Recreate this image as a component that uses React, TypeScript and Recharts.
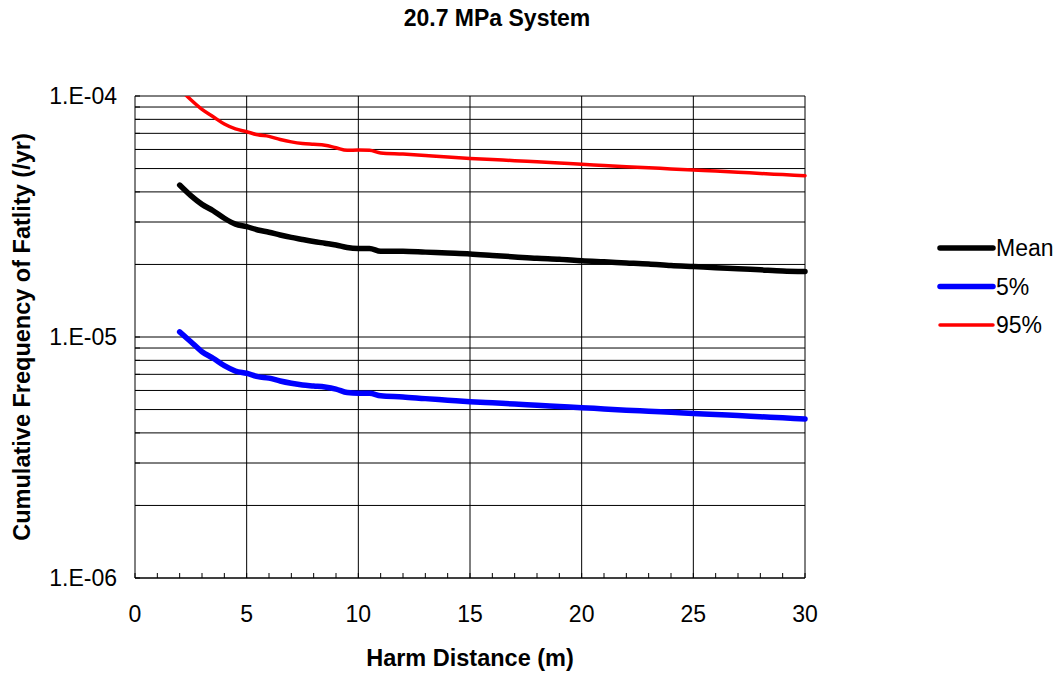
import React from 'react';
import {
  LineChart,
  Line,
  XAxis,
  YAxis,
  CartesianGrid,
  ReferenceLine,
  Legend,
  Label,
} from 'recharts';

// Harm distance (m)
const distance = [
  2, 2.5, 3, 3.5, 4, 4.5, 5, 5.5, 6, 6.5, 7, 7.5, 8, 8.5, 9, 9.5, 10, 10.5, 11, 12,
  13, 14, 15, 16, 17, 18, 19, 20, 21, 22, 23, 24, 25, 26, 27, 28, 29, 30,
];

// Cumulative frequency of fatality (/yr)
const meanFreq = [
  4.27e-5, 3.86e-5, 3.55e-5, 3.34e-5, 3.11e-5, 2.94e-5, 2.87e-5, 2.78e-5, 2.72e-5, 2.65e-5,
  2.59e-5, 2.54e-5, 2.49e-5, 2.45e-5, 2.41e-5, 2.35e-5, 2.33e-5, 2.33e-5, 2.27e-5, 2.27e-5,
  2.25e-5, 2.23e-5, 2.21e-5, 2.18e-5, 2.15e-5, 2.12e-5, 2.1e-5, 2.07e-5, 2.05e-5, 2.03e-5,
  2.01e-5, 1.98e-5, 1.96e-5, 1.94e-5, 1.92e-5, 1.9e-5, 1.88e-5, 1.87e-5,
];
const p5Freq = [
  1.05e-5, 9.56e-6, 8.69e-6, 8.16e-6, 7.6e-6, 7.22e-6, 7.07e-6, 6.85e-6, 6.75e-6, 6.57e-6,
  6.43e-6, 6.32e-6, 6.26e-6, 6.2e-6, 6.08e-6, 5.88e-6, 5.84e-6, 5.84e-6, 5.7e-6, 5.64e-6,
  5.55e-6, 5.47e-6, 5.39e-6, 5.33e-6, 5.27e-6, 5.21e-6, 5.15e-6, 5.09e-6, 5.03e-6, 4.97e-6,
  4.92e-6, 4.87e-6, 4.82e-6, 4.77e-6, 4.72e-6, 4.67e-6, 4.62e-6, 4.57e-6,
];
const p95Freq = [
  1.07e-4, 9.65e-5, 8.8e-5, 8.2e-5, 7.65e-5, 7.3e-5, 7.11e-5, 6.9e-5, 6.8e-5, 6.6e-5,
  6.45e-5, 6.35e-5, 6.3e-5, 6.25e-5, 6.1e-5, 5.95e-5, 5.97e-5, 5.95e-5, 5.8e-5, 5.74e-5,
  5.66e-5, 5.58e-5, 5.51e-5, 5.45e-5, 5.39e-5, 5.33e-5, 5.27e-5, 5.21e-5, 5.15e-5, 5.09e-5,
  5.04e-5, 4.98e-5, 4.93e-5, 4.88e-5, 4.83e-5, 4.77e-5, 4.72e-5, 4.67e-5,
];

const xTicks = [
  0, 1, 2, 3, 4, 5, 6, 7, 8, 9, 10, 11, 12, 13, 14, 15, 16, 17, 18, 19, 20, 21, 22, 23, 24,
  25, 26, 27, 28, 29, 30,
];
const xGridLines = [5, 10, 15, 20, 25, 30];
const yTicks = [
  1e-6, 2e-6, 3e-6, 4e-6, 5e-6, 6e-6, 7e-6, 8e-6, 9e-6,
  1e-5, 2e-5, 3e-5, 4e-5, 5e-5, 6e-5, 7e-5, 8e-5, 9e-5, 1e-4,
];
const yDecades = [1e-6, 1e-5, 1e-4];

const seriesStyle = [
  { key: 'mean', name: 'Mean', color: '#000000', width: 5.5 },
  { key: 'p5', name: '5%', color: '#0000FF', width: 5.5 },
  { key: 'p95', name: '95%', color: '#FF0000', width: 3.5 },
];

const data = distance.map((x, i) => ({
  x,
  mean: meanFreq[i],
  p5: p5Freq[i],
  p95: p95Freq[i],
}));

const FONT = '"Liberation Sans", Arial, Helvetica, sans-serif';
const FONT_SIZE = 23;
const LABEL_SIZE = 23.5;

const formatDecade = (v: number) => {
  const exp = Math.round(Math.log10(v));
  const sign = exp < 0 ? '-' : '+';
  return `1.E${sign}${String(Math.abs(exp)).padStart(2, '0')}`;
};

const XTick = (props: any) => {
  const { x, y, payload } = props;
  const v = payload.value as number;
  return (
    <g>
      <line x1={x} y1={y} x2={x} y2={y - 5} stroke="#000" strokeWidth={1} />
      {v % 5 === 0 && (
        <text
          x={x}
          y={y + 36}
          textAnchor="middle"
          dominantBaseline="central"
          fontFamily={FONT}
          fontSize={FONT_SIZE}
          fill="#000"
        >
          {v}
        </text>
      )}
    </g>
  );
};

const YTick = (props: any) => {
  const { x, y, payload } = props;
  const v = payload.value as number;
  const isDecade = yDecades.some((d) => Math.abs(d - v) / d < 1e-6);
  return (
    <g>
      <line x1={x} y1={y} x2={x + 5} y2={y} stroke="#000" strokeWidth={1} />
      {isDecade && (
        <text
          x={x - 18}
          y={y}
          textAnchor="end"
          dominantBaseline="central"
          fontFamily={FONT}
          fontSize={FONT_SIZE}
          fill="#000"
        >
          {formatDecade(v)}
        </text>
      )}
    </g>
  );
};

const LegendContent = () => (
  <svg width={125} height={120} style={{ display: 'block', overflow: 'visible' }}>
    {seriesStyle.map((s, i) => {
      const cy = 19 + i * 38.5;
      return (
        <g key={s.key}>
          <line
            x1={0}
            y1={cy}
            x2={53}
            y2={cy}
            stroke={s.color}
            strokeWidth={s.width}
            strokeLinecap="round"
          />
          <text
            x={56}
            y={cy}
            dominantBaseline="central"
            fontFamily={FONT}
            fontSize={FONT_SIZE}
            fill="#000"
          >
            {s.name}
          </text>
        </g>
      );
    })}
  </svg>
);

export default function App() {
  return (
    <div
      style={{
        position: 'absolute',
        left: 0,
        top: 0,
        width: 1061,
        height: 675,
        background: '#fff',
      }}
    >
      <div
        style={{
          position: 'absolute',
          left: 0,
          top: 6,
          width: 994,
          textAlign: 'center',
          fontFamily: FONT,
          fontWeight: 'bold',
          fontSize: FONT_SIZE,
          lineHeight: '24px',
          color: '#000',
        }}
      >
        20.7 MPa System
      </div>
      <LineChart
        width={1061}
        height={675}
        data={data}
        margin={{ top: 96, right: 256, bottom: 0, left: 0 }}
      >
        <CartesianGrid
          vertical={false}
          stroke="#000"
          strokeWidth={1}
          fill="#fff"
        />
        {xGridLines.map((gx) => (
          <ReferenceLine key={gx} x={gx} stroke="#000" strokeWidth={1} ifOverflow="visible" />
        ))}
        <XAxis
          dataKey="x"
          type="number"
          domain={[0, 30]}
          ticks={xTicks}
          interval={0}
          height={97}
          tickSize={0}
          tickMargin={0}
          tickLine={false}
          axisLine={{ stroke: '#000', strokeWidth: 1 }}
          tick={XTick}
        >
          <Label
            value="Harm Distance (m)"
            position="insideBottom"
            offset={9}
            style={{
              fontFamily: FONT,
              fontWeight: 'bold',
              fontSize: LABEL_SIZE,
              fill: '#000',
            }}
          />
        </XAxis>
        <YAxis
          scale="log"
          type="number"
          domain={[1e-6, 1e-4]}
          allowDataOverflow
          ticks={yTicks}
          interval={0}
          width={135}
          tickSize={0}
          tickMargin={0}
          tickLine={false}
          axisLine={{ stroke: '#000', strokeWidth: 1 }}
          tick={YTick}
        >
          <Label
            value="Cumulative Frequency of Fatlity (/yr)"
            angle={-90}
            position="insideLeft"
            offset={22}
            style={{
              textAnchor: 'middle',
              fontFamily: FONT,
              fontWeight: 'bold',
              fontSize: LABEL_SIZE,
              fill: '#000',
            }}
          />
        </YAxis>
        <Legend
          layout="vertical"
          align="center"
          verticalAlign="middle"
          content={LegendContent}
          wrapperStyle={{ position: 'absolute', left: 940, top: 229, width: 125 }}
        />
        {seriesStyle.map((s) => (
          <Line
            key={s.key}
            type="monotone"
            dataKey={s.key}
            name={s.name}
            stroke={s.color}
            strokeWidth={s.width}
            strokeLinejoin="round"
            strokeLinecap="round"
            dot={false}
            activeDot={false}
            isAnimationActive={false}
          />
        ))}
      </LineChart>
    </div>
  );
}
